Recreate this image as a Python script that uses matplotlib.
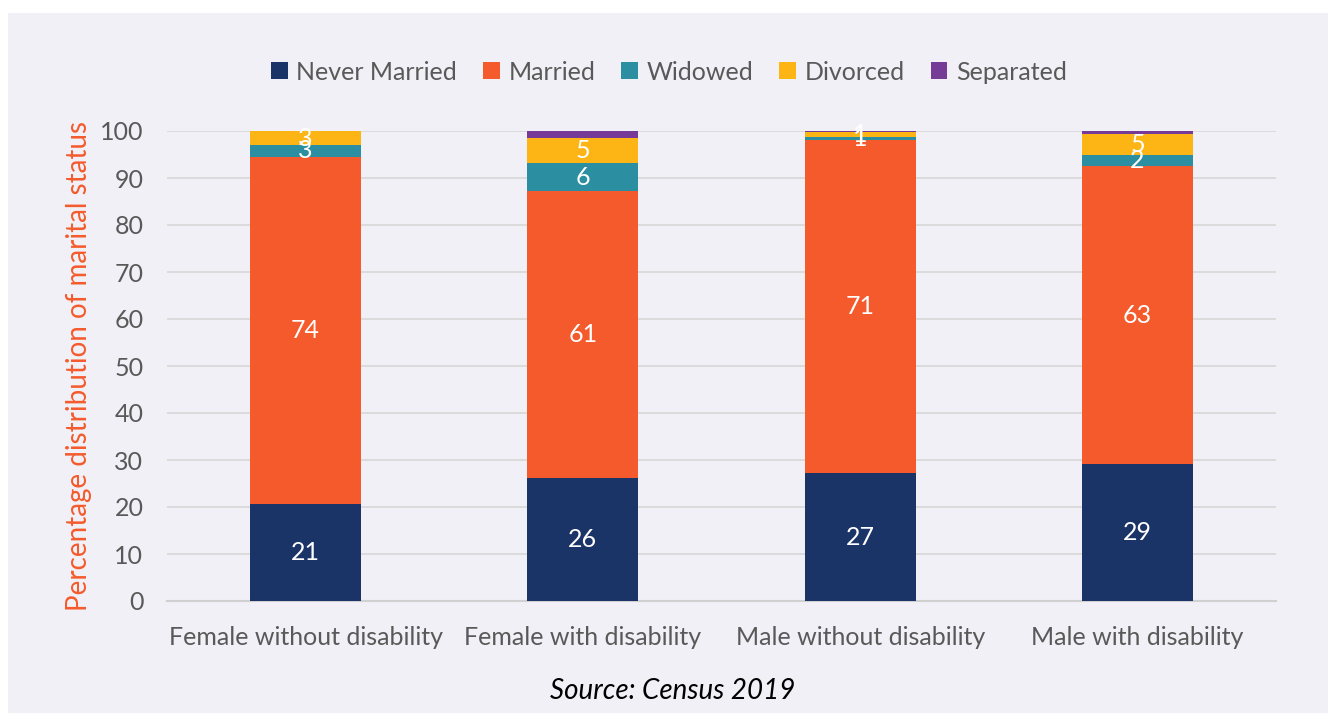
import matplotlib.pyplot as plt
from matplotlib.patches import Rectangle

# Marital status by sex and disability (percent), Census 2019
groups = ['Female without disability', 'Female with disability',
          'Male without disability', 'Male with disability']
statuses = ['Never Married', 'Married', 'Widowed', 'Divorced', 'Separated']
never_married = [20.7, 26.2, 27.2, 29.1]
married = [73.8, 61.0, 70.9, 63.4]
widowed = [2.6, 6.0, 0.6, 2.3]
divorced = [2.8, 5.4, 1.1, 4.6]
separated = [0.1, 1.4, 0.2, 0.6]

colors = ['#1b3467', '#f55a2c', '#2b8fa1', '#fdb515', '#753b96']
text_col = '#595959'

plt.rcParams['font.family'] = ['Lato', 'DejaVu Sans']

fig = plt.figure(figsize=(13.28, 7.13), dpi=100)
fig.patches.append(Rectangle((8 / 1328, 0), 1 - 8 / 1328, 1 - 13 / 713,
                             transform=fig.transFigure, facecolor='#f1f0f6',
                             edgecolor='none', zorder=-10))

ax = fig.add_axes([167 / 1328, 112 / 713, 1109 / 1328, 470 / 713])
ax.set_facecolor('none')

x = range(len(groups))
bottom = [0] * len(groups)
series = [never_married, married, widowed, divorced, separated]
for name, vals, col in zip(statuses, series, colors):
    bars = ax.bar(x, vals, width=0.4, bottom=bottom, color=col, label=name, zorder=3)
    if name != 'Separated':
        ax.bar_label(bars, labels=['%.0f' % v for v in vals], label_type='center',
                     color='white', fontsize=18, zorder=4)
    bottom = [b + v for b, v in zip(bottom, vals)]

ax.set_xlim(-0.5, 3.5)
ax.set_ylim(0, 100)
ax.set_yticks(range(0, 101, 10))
ax.grid(axis='y', color='#d9d9d9', linewidth=1.3, zorder=0)
for s in ['top', 'right', 'left']:
    ax.spines[s].set_visible(False)
ax.spines['bottom'].set_color('#d0d0d0')
ax.spines['bottom'].set_linewidth(1.5)
ax.tick_params(length=0, labelsize=18, colors=text_col)
ax.tick_params(axis='y', pad=17)
ax.tick_params(axis='x', pad=18)
ax.set_xticks(list(x))
ax.set_xticklabels(groups)
ax.set_ylabel('Percentage distribution of marital status', color='#f55a2c',
              fontsize=20, labelpad=6)

fig.legend(loc='center', bbox_to_anchor=(669 / 1328, 1 - 72 / 713), ncol=5,
           frameon=False, fontsize=18, labelcolor=text_col, handlelength=0.65,
           handleheight=0.65, handletextpad=0.35, columnspacing=1.05)

fig.text(673 / 1328, 1 - 691 / 713, 'Source: Census 2019', style='italic',
         ha='center', va='center', fontsize=20, color='black')

fig.savefig('out.png', dpi=100)
